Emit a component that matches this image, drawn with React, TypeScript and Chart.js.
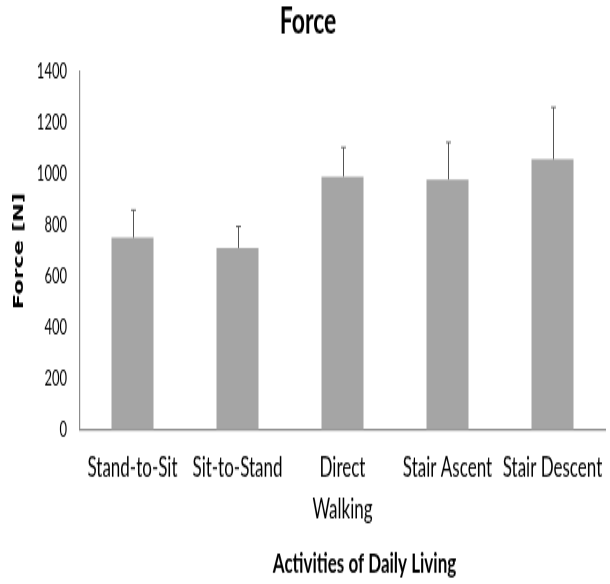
import React, { useEffect, useRef } from "react";
import { Chart, registerables } from "chart.js";

Chart.register(...registerables);

const categories: (string | string[])[] = [
  "Stand-to-Sit",
  "Sit-to-Stand",
  ["Direct", "Walking"],
  "Stair Ascent",
  "Stair Descent",
];
const forceMeans = [752, 712, 991, 980, 1059];
const forceSD = [108, 84, 114, 145, 203];
const yTicks = [0, 200, 400, 600, 800, 1000, 1200, 1400];
const xAxisTitle = "Activities of Daily Living";

// The original picture is stretched vertically; draw at a reduced height and stretch.
const W = 610;
const H = 584;
const STRETCH = 1.6;
const LOGICAL_H = Math.round(H / STRETCH);

const FONT = "Lato, 'Open Sans', sans-serif";

const errorBarPlugin = {
  id: "errorBars",
  afterDatasetsDraw(chart: any) {
    const ctx = chart.ctx;
    const meta = chart.getDatasetMeta(0);
    const y = chart.scales.y;
    ctx.save();
    ctx.strokeStyle = "#555555";
    meta.data.forEach((bar: any, i: number) => {
      const x = Math.round(bar.x) + 0.5;
      const yTop = y.getPixelForValue(forceMeans[i] + forceSD[i]);
      const yBase = y.getPixelForValue(forceMeans[i]);
      ctx.lineWidth = 1;
      ctx.beginPath();
      ctx.moveTo(x, yBase);
      ctx.lineTo(x, yTop);
      ctx.stroke();
      ctx.lineWidth = 0.9;
      ctx.beginPath();
      ctx.moveTo(x - 2.5, yTop);
      ctx.lineTo(x + 2.5, yTop);
      ctx.stroke();
    });
    ctx.restore();
  },
};

// x-axis title, sitting a little right of the plot centre as in the original
const xTitlePlugin = {
  id: "xTitle",
  afterDraw(chart: any) {
    const ctx = chart.ctx;
    const area = chart.chartArea;
    ctx.save();
    ctx.fillStyle = "#000";
    ctx.font = `bold 17px ${FONT}`;
    ctx.textAlign = "center";
    ctx.textBaseline = "middle";
    ctx.fillText(xAxisTitle, (area.left + area.right) / 2 + 22, LOGICAL_H - 12.5);
    ctx.restore();
  },
};

export default function App() {
  const ref = useRef<HTMLCanvasElement>(null);
  useEffect(() => {
    if (!ref.current) return;
    const chart = new Chart(ref.current, {
      type: "bar",
      data: {
        labels: categories,
        datasets: [
          {
            data: forceMeans,
            backgroundColor: "#a5a5a5",
            categoryPercentage: 1,
            barPercentage: 0.4,
          },
        ],
      },
      options: {
        animation: false,
        responsive: false,
        layout: { padding: { left: 11, right: 5, top: 0, bottom: 22 } },
        plugins: {
          legend: { display: false },
          tooltip: { enabled: false },
          title: {
            display: true,
            text: "Force",
            color: "#000",
            font: { family: FONT, size: 23, weight: "bold" },
            padding: { top: 0, bottom: 17.5 },
          },
        },
        scales: {
          x: {
            grid: { display: false, drawTicks: false },
            border: { display: true, color: "#8c8c8c", width: 1.2 },
            ticks: {
              color: "#000",
              font: { family: FONT, size: 17, lineHeight: 1.54 },
              maxRotation: 0,
              autoSkip: false,
              padding: 11,
            },
            afterFit: (scale: any) => {
              scale.paddingLeft = 0;
              scale.paddingRight = 0;
            },
          },
          y: {
            min: 0,
            max: 1400,
            afterBuildTicks: (scale: any) => {
              scale.ticks = yTicks.map((v) => ({ value: v }));
            },
            afterFit: (scale: any) => {
              scale.width = 69;
            },
            grid: { display: false, drawTicks: false },
            border: { display: true, color: "#8c8c8c", width: 1.2 },
            ticks: {
              color: "#000",
              font: { family: FONT, size: 13 },
              padding: 13,
              callback: (v: any) => String(v),
            },
            title: {
              display: true,
              text: "Force [N]",
              color: "#000",
              font: { family: "'DejaVu Sans', Verdana, sans-serif", size: 14, weight: "bold" },
              padding: { top: 0, bottom: 6 },
            },
          },
        },
      },
      plugins: [errorBarPlugin, xTitlePlugin],
    } as any);
    return () => chart.destroy();
  }, []);
  return (
    <div style={{ position: "absolute", left: 0, top: 0, width: W, height: H, background: "#fff" }}>
      <canvas
        ref={ref}
        width={W}
        height={LOGICAL_H}
        style={{ display: "block", width: `${W}px`, height: `${H}px` }}
      />
    </div>
  );
}
